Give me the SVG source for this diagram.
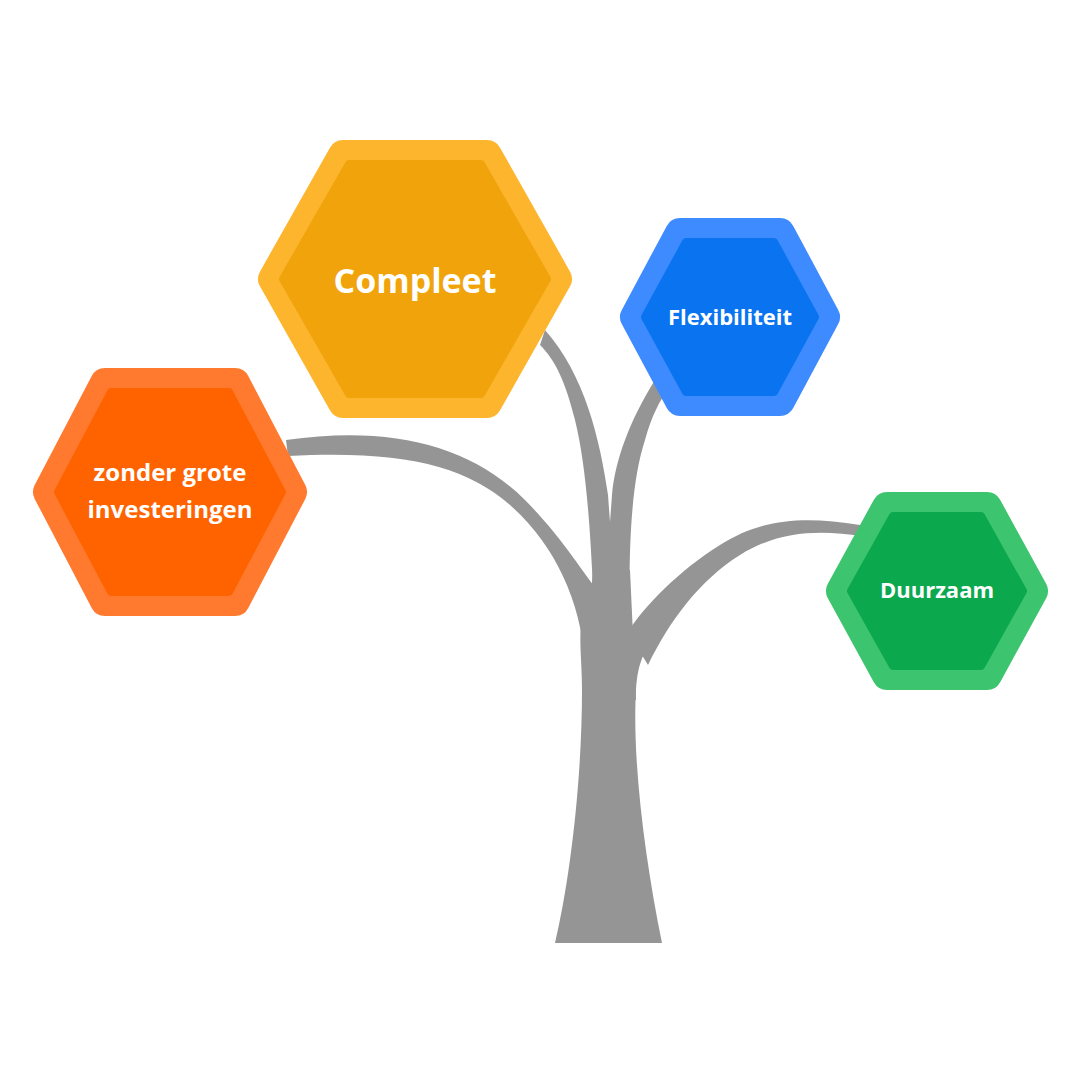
<svg xmlns="http://www.w3.org/2000/svg" width="1080" height="1080" viewBox="0 0 1080 1080">
<style>
.tree{fill:#959595}
.outer{stroke-width:30;stroke-linejoin:round}
.inner{stroke-width:8;stroke-linejoin:round}
.lbl{font-family:"Open Sans","Liberation Sans",sans-serif;font-weight:700;fill:#fff;text-anchor:middle}
</style>
<rect width="1080" height="1080" fill="#fff"/>
<g id="connectors">
<path class="tree" d="M555,943 L662,943 C645,860 632,760 636,690 C638,660 645,650 655,640 L590,600 C575,620 582,650 582,690 C582,780 570,880 555,943 Z"/>
<path class="tree" d="M593,570 L630,570 L636,700 L582,700 Z"/>
<path class="tree" d="M286,440 C390,425 470,445 525,500 C560,535 585,575 597,590 L585,660 C580,600 555,545 510,505 C465,465 400,450 288,456 Z"/>
<path class="tree" d="M545,330 C585,375 600,440 608,495 L615,590 L593,590 C590,520 585,460 575,420 C565,380 555,360 540,345 Z"/>
<path class="tree" d="M655,380 C630,420 615,460 612,495 L605,590 L630,630 C628,540 632,480 645,440 C652,415 660,400 668,390 Z"/>
<path class="tree" d="M860,525 C800,515 760,520 720,545 C680,570 645,605 628,632 L648,665 C670,620 700,580 740,555 C780,530 820,530 862,536 Z"/>
</g>
<g id="compleet">
<polygon class="outer" fill="#FDB52E" stroke="#FDB52E" points="273,279 343,155 487,155 557,279 487,403 343,403"/>
<polygon class="inner" fill="#F0A30A" stroke="#F0A30A" points="283,279 349,164 481,164 547,279 481,394 349,394"/>
<text class="lbl" x="415" y="293" font-size="34">Compleet</text>
</g>
<g id="zonder">
<polygon class="outer" fill="#FF7A2E" stroke="#FF7A2E" points="48,492 105,383 235,383 292,492 235,601 105,601"/>
<polygon class="inner" fill="#FF6300" stroke="#FF6300" points="58,492 111,392 229,392 282,492 229,592 111,592"/>
<text class="lbl" x="170" y="481" font-size="24">zonder grote</text>
<text class="lbl" x="170" y="518" font-size="24">investeringen</text>
</g>
<g id="flex">
<polygon class="outer" fill="#3D8BFF" stroke="#3D8BFF" points="635,317 680,233 780,233 825,317 780,401 680,401"/>
<polygon class="inner" fill="#0A74F0" stroke="#0A74F0" points="645,317 686,242 774,242 815,317 774,392 686,392"/>
<text class="lbl" x="730" y="325" font-size="22">Flexibiliteit</text>
</g>
<g id="duurzaam">
<polygon class="outer" fill="#3DC46E" stroke="#3DC46E" points="841,591 887,507 987,507 1033,591 987,675 887,675"/>
<polygon class="inner" fill="#0BA84E" stroke="#0BA84E" points="851,591 893,516 981,516 1023,591 981,666 893,666"/>
<text class="lbl" x="937" y="598" font-size="22">Duurzaam</text>
</g>
</svg>
